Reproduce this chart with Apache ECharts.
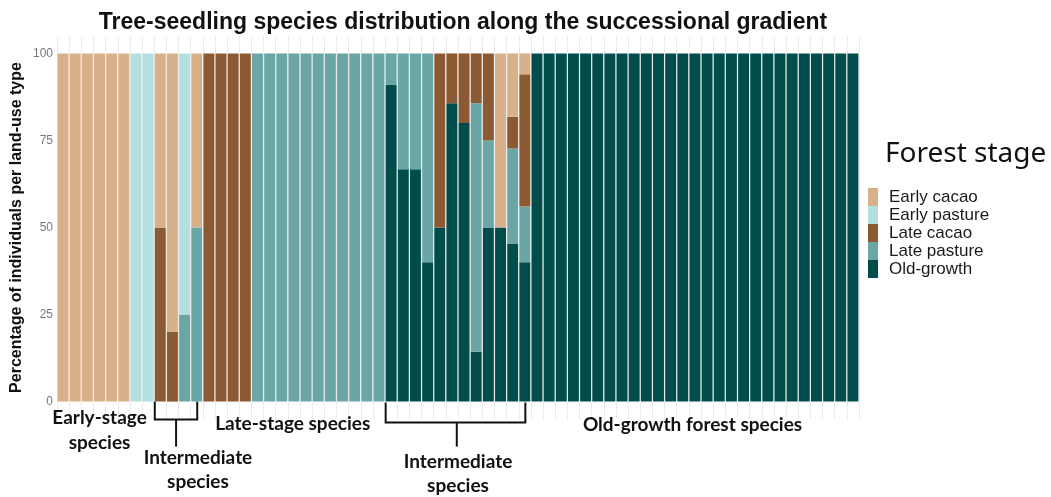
<!DOCTYPE html>
<html>
<head>
<meta charset="utf-8">
<script src="https://cdn.jsdelivr.net/npm/echarts@6/dist/echarts.min.js"></script>
<style>
  html, body { margin: 0; padding: 0; background: #ffffff; }
  #chart { width: 1051px; height: 497px; }
</style>
</head>
<body>
<div id="chart"></div>
<script>
// ---------------- DATA ----------------
const categories = Array.from({ length: 66 }, (_, i) => 'Species ' + (i + 1));

const stageNames = ['Early cacao', 'Early pasture', 'Late cacao', 'Late pasture', 'Old-growth'];

// Percentages per species (66 bars): groups 1-16 | 17-27 | 28-39 | 40-66
const earlyCacao = [
  100,100,100,100,100,100,0,0,50,80,0,50,0,0,0,0,
  0,0,0,0,0,0,0,0,0,0,0,
  0,0,0,0,0,0,0,0,0,50,18.2,6,
  0,0,0,0,0,0,0,0,0,0,0,0,0,0,0,0,0,0,0,0,0,0,0,0,0,0,0
];
const earlyPasture = [
  0,0,0,0,0,0,100,100,0,0,75,0,0,0,0,0,
  0,0,0,0,0,0,0,0,0,0,0,
  0,0,0,0,0,0,0,0,0,0,0,0,
  0,0,0,0,0,0,0,0,0,0,0,0,0,0,0,0,0,0,0,0,0,0,0,0,0,0,0
];
const lateCacao = [
  0,0,0,0,0,0,0,0,50,20,0,0,100,100,100,100,
  0,0,0,0,0,0,0,0,0,0,0,
  0,0,0,0,50,14.3,20,14.3,25,0,9.1,38,
  0,0,0,0,0,0,0,0,0,0,0,0,0,0,0,0,0,0,0,0,0,0,0,0,0,0,0
];
const latePasture = [
  0,0,0,0,0,0,0,0,0,0,25,50,0,0,0,0,
  100,100,100,100,100,100,100,100,100,100,100,
  9.1,33.3,33.3,60,0,0,0,71.4,25,0,27.3,16,
  0,0,0,0,0,0,0,0,0,0,0,0,0,0,0,0,0,0,0,0,0,0,0,0,0,0,0
];
const oldGrowth = [
  0,0,0,0,0,0,0,0,0,0,0,0,0,0,0,0,
  0,0,0,0,0,0,0,0,0,0,0,
  90.9,66.7,66.7,40,50,85.7,80,14.3,50,50,45.4,40,
  100,100,100,100,100,100,100,100,100,100,100,100,100,100,100,100,100,100,100,100,100,100,100,100,100,100,100
];

const yTickLabels = [0, 25, 50, 75, 100];

// ---------------- STYLE ----------------
const colors = {
  'Early cacao': '#d8b08a',
  'Early pasture': '#b4dfe0',
  'Late cacao': '#8b5a33',
  'Late pasture': '#6ba6a6',
  'Old-growth': '#014d4b'
};

const seriesData = {
  'Early cacao': earlyCacao,
  'Early pasture': earlyPasture,
  'Late cacao': lateCacao,
  'Late pasture': latePasture,
  'Old-growth': oldGrowth
};

// stacking order bottom -> top
const stackOrder = ['Old-growth', 'Late pasture', 'Late cacao', 'Early pasture', 'Early cacao'];

const chart = echarts.init(document.getElementById('chart'), null, { renderer: 'canvas' });

const option = {
  backgroundColor: '#ffffff',
  animation: false,
  title: [
    {
      text: 'Tree-seedling species distribution along the successional gradient',
      left: 458, top: 6, textAlign: 'center',
      textStyle: { fontFamily: 'Liberation Sans, Arial, sans-serif', fontWeight: 'bold', fontSize: 23, color: '#111' }
    },
    {
      text: 'Forest stage',
      left: 880, top: 135,
      textStyle: { fontFamily: 'Noto Sans, sans-serif', fontWeight: 'normal', fontSize: 28, color: '#111' }
    }
  ],
  legend: {
    data: stageNames,
    orient: 'vertical',
    left: 868, top: 188,
    padding: 0,
    itemWidth: 10, itemHeight: 18, itemGap: 0,
    icon: 'rect',
    textStyle: { fontFamily: 'Liberation Sans, Arial, sans-serif', fontSize: 17, color: '#1a1a1a', lineHeight: 18, padding: [0, 0, 0, 6] }
  },
  grid: { left: 57, right: 192, top: 36, bottom: 78, containLabel: false, outerBoundsMode: 'none' },
  xAxis: {
    type: 'category',
    data: categories,
    axisLine: { show: false },
    axisTick: { show: false },
    axisLabel: { show: false, interval: 0 },
    splitLine: { show: true, interval: 0, lineStyle: { color: '#ebebeb', width: 1 } }
  },
  yAxis: {
    type: 'value',
    min: -5, max: 105, interval: 5,
    name: 'Percentage of individuals per land-use type',
    nameLocation: 'middle', nameRotate: 90, nameGap: 32, nameMoveOverlap: false,
    nameTextStyle: { fontFamily: 'Liberation Sans, Arial, sans-serif', fontWeight: 'bold', fontSize: 16, color: '#111' },
    axisLine: { show: false },
    axisTick: { show: false },
    splitLine: { show: false },
    axisLabel: {
      margin: 4,
      color: '#777',
      fontFamily: 'Liberation Sans, Arial, sans-serif',
      fontSize: 12,
      formatter: v => (yTickLabels.indexOf(v) >= 0 ? String(v) : '')
    }
  },
  series: stackOrder.map(name => ({
    name: name,
    type: 'bar',
    stack: 'total',
    barCategoryGap: '10%',
    data: seriesData[name],
    itemStyle: { color: colors[name] },
    emphasis: { disabled: true }
  }))
};

chart.setOption(option);

// ---------------- ANNOTATIONS (positioned via axis scale) ----------------
function xAt(f) {
  const x0 = chart.convertToPixel({ xAxisIndex: 0 }, categories[0]);
  const x1 = chart.convertToPixel({ xAxisIndex: 0 }, categories[1]);
  return x0 + f * (x1 - x0);
}
const y0 = chart.convertToPixel({ yAxisIndex: 0 }, 0);
const annFont = 'bold 19px Lato, "Open Sans", sans-serif';

function bracket(i1, i2, stemF, topOff, barOff, stemOff) {
  const l = xAt(i1) - 5.5, r = xAt(i2) + 0.5, s = xAt(stemF);
  return [
    { type: 'polyline', shape: { points: [[l, y0 + topOff], [l, y0 + barOff], [r, y0 + barOff], [r, y0 + topOff]] },
      style: { stroke: '#111', lineWidth: 2, fill: null } },
    { type: 'line', shape: { x1: s, y1: y0 + barOff, x2: s, y2: y0 + stemOff },
      style: { stroke: '#111', lineWidth: 2 } }
  ];
}
function label(text, f, yOff, lh) {
  return { type: 'text', x: xAt(f), y: y0 + yOff,
    style: { text: text, font: annFont, fill: '#111', align: 'center', verticalAlign: 'middle', lineHeight: lh || 24 } };
}

chart.setOption({
  graphic: [
    ...bracket(8, 11, 9.3, 0, 18, 45),
    ...bracket(27, 38, 32.4, 1, 21, 45),
    label('Early-stage\nspecies', 3.0, 29, 25),
    label('Intermediate\nspecies', 11.1, 68, 24),
    label('Late-stage species', 18.9, 22),
    label('Intermediate\nspecies', 32.5, 72, 24),
    label('Old-growth forest species', 51.8, 23)
  ]
});
</script>
</body>
</html>
